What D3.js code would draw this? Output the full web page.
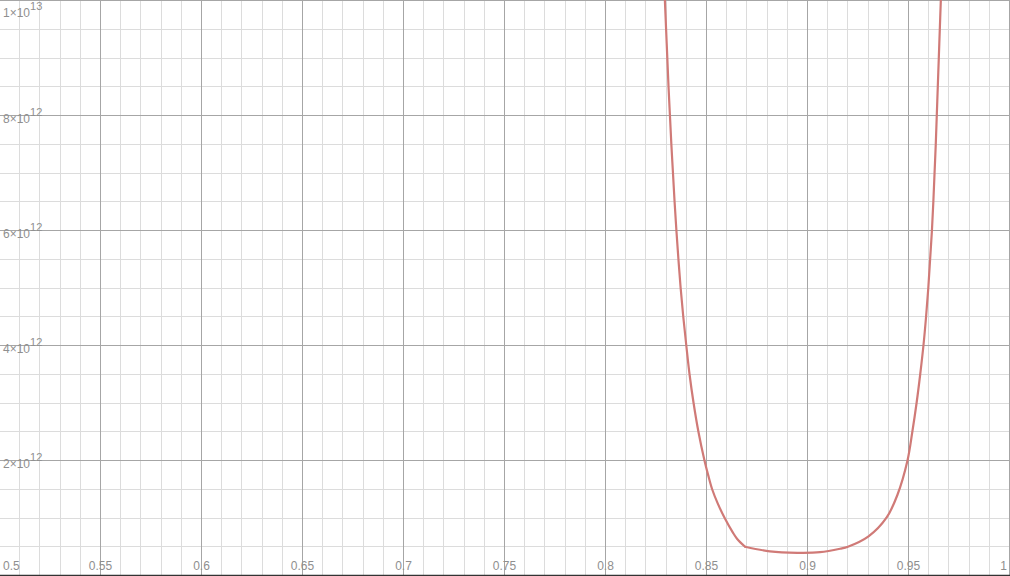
<!DOCTYPE html>
<html lang="en">
<head>
    <meta charset="UTF-8">
    <title>Curve</title>
    <script src="https://d3js.org/d3.v7.min.js"></script>
    <style>
        body { margin: 0; background: #fff; overflow: hidden; }
        svg { display: block; }
        .tick-label { font-family: "Liberation Sans", Arial, sans-serif; fill: #8f8f8f; }
    </style>
</head>
<body>
    <svg id="chart" width="1010" height="576"></svg>

    <script>
        // curve (x, y in units of 1e12)
        const leftX = [0.8294, 0.8300, 0.8306, 0.8312, 0.8319, 0.8326, 0.8334, 0.8342, 0.8351, 0.8361,
            0.8372, 0.8385, 0.8400, 0.8416, 0.8436, 0.8460, 0.8490, 0.8508, 0.8528, 0.8556, 0.8590, 0.8630, 0.8651, 0.8691];
        const leftY = [10.0, 9.5, 9.0, 8.5, 8.0, 7.5, 7.0, 6.5, 6.0, 5.5,
            5.0, 4.5, 4.0, 3.5, 3.0, 2.5, 2.0, 1.75, 1.5, 1.25, 1.0, 0.75, 0.64, 0.50];
        const rightX = [0.8691, 0.8814, 0.8950, 0.9062, 0.9161, 0.9200, 0.9302, 0.9392, 0.9445, 0.9495, 0.9519,
            0.9540, 0.9558, 0.9574, 0.9587, 0.9598, 0.9607, 0.9616, 0.9623, 0.9629, 0.9635,
            0.9640, 0.9645, 0.9650, 0.9655, 0.9660];
        const rightY = [0.50, 0.42, 0.395, 0.405, 0.465, 0.50, 0.68, 1.01, 1.40, 2.0, 2.5,
            3.0, 3.5, 4.0, 4.5, 5.0, 5.5, 6.0, 6.5, 7.0, 7.5,
            8.0, 8.5, 9.0, 9.5, 10.0];

        const xTicks = [0.5, 0.55, 0.6, 0.65, 0.7, 0.75, 0.8, 0.85, 0.9, 0.95, 1];
        const xTickLabels = ["0.5", "0.55", "0.6", "0.65", "0.7", "0.75", "0.8", "0.85", "0.9", "0.95", "1"];
        const yTicks = [2e12, 4e12, 6e12, 8e12, 1e13];
        const yTickMantissa = ["2", "4", "6", "8", "1"];
        const yTickExponent = ["12", "12", "12", "12", "13"];

        const width = 1010, height = 576;
        const svg = d3.select("#chart");

        const x = d3.scaleLinear().domain([0.5, 1]).range([-0.5, 1009.5]);
        const y = d3.scaleLinear().domain([0, 1e13]).range([575.5, 0.5]);

        // minor grid
        const minorX = d3.range(0, 51).map(i => 0.5 + i * 0.01);
        const minorY = d3.range(0, 21).map(i => i * 5e11);
        const grid = svg.append("g").attr("shape-rendering", "crispEdges");
        grid.selectAll(".mx").data(minorX).enter().append("line")
            .attr("x1", d => x(d)).attr("x2", d => x(d))
            .attr("y1", 0).attr("y2", height)
            .attr("stroke", "#dcdcdc");
        grid.selectAll(".my").data(minorY).enter().append("line")
            .attr("x1", 0).attr("x2", width)
            .attr("y1", d => y(d)).attr("y2", d => y(d))
            .attr("stroke", "#dcdcdc");

        // major grid
        grid.selectAll(".Mx").data(xTicks).enter().append("line")
            .attr("x1", d => x(d)).attr("x2", d => x(d))
            .attr("y1", 0).attr("y2", height)
            .attr("stroke", "#a6a6a6");
        grid.selectAll(".My").data(yTicks).enter().append("line")
            .attr("x1", 0).attr("x2", width)
            .attr("y1", d => y(d)).attr("y2", d => y(d))
            .attr("stroke", "#a6a6a6");

        // x axis (y = 0)
        svg.append("line")
            .attr("x1", 0).attr("x2", width)
            .attr("y1", y(0)).attr("y2", y(0))
            .attr("stroke", "#333").attr("stroke-width", 1.5);

        // curve
        const line = d3.line()
            .x(d => x(d[0]))
            .y(d => y(d[1] * 1e12))
            .curve(d3.curveCatmullRom.alpha(0.5));

        [[leftX, leftY], [rightX, rightY]].forEach(([xs, ys]) => {
            svg.append("path")
                .datum(xs.map((v, i) => [v, ys[i]]))
                .attr("fill", "none")
                .attr("stroke", "#d07a77")
                .attr("stroke-width", 2.2)
                .attr("stroke-linejoin", "round")
                .attr("stroke-linecap", "round")
                .attr("d", line);
        });

        // x tick labels
        const xl = svg.append("g");
        xTicks.forEach((t, i) => {
            const txt = xl.append("text")
                .attr("class", "tick-label")
                .attr("font-size", 12)
                .attr("x", x(t))
                .attr("y", 570)
                .attr("text-anchor", "middle")
                .text(xTickLabels[i]);
            const w = txt.node().getComputedTextLength();
            if (x(t) - w / 2 < 3) txt.attr("text-anchor", "start").attr("x", 3);
            if (x(t) + w / 2 > width - 3) txt.attr("text-anchor", "end").attr("x", width - 3);
        });

        // y tick labels
        const yl = svg.append("g");
        yTicks.forEach((t, i) => {
            const base = Math.max(y(t) + 7, 17);
            const txt = yl.append("text")
                .attr("class", "tick-label")
                .attr("font-size", 12)
                .attr("x", 3)
                .attr("y", base);
            txt.append("tspan").text(yTickMantissa[i] + "×10");
            txt.append("tspan")
                .attr("font-size", 11)
                .attr("dy", -7)
                .text(yTickExponent[i]);
        });
    </script>
</body>
</html>
